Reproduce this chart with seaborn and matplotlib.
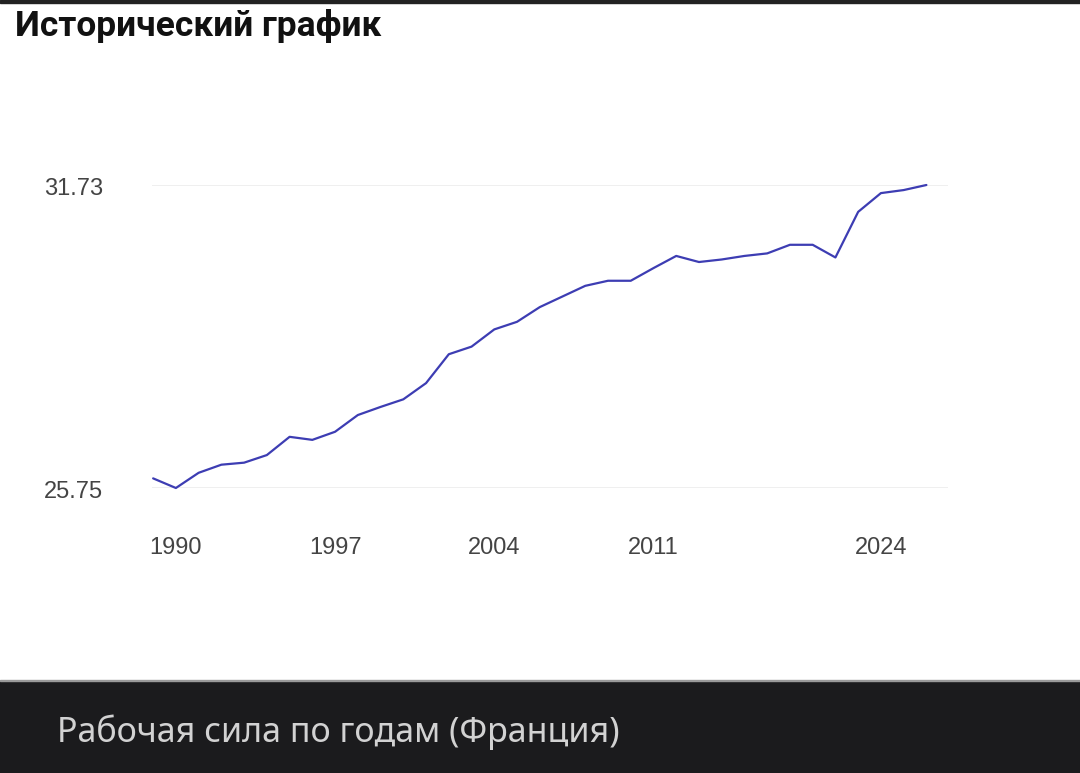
import pandas as pd
import matplotlib.pyplot as plt
import matplotlib.transforms as mtransforms
import seaborn as sns
from matplotlib.patches import Rectangle

# === data ===
point_idx = list(range(35))
labour_force = [
    25.94, 25.75, 26.05, 26.21, 26.25, 26.40, 26.76, 26.70, 26.86, 27.19,
    27.35, 27.50, 27.82, 28.39, 28.54, 28.88, 29.03, 29.32, 29.53, 29.74,
    29.84, 29.84, 30.09, 30.33, 30.21, 30.26, 30.33, 30.38, 30.55, 30.55,
    30.30, 31.20, 31.57, 31.63, 31.73,
]
tick_idx = [1, 8, 15, 22, 32]
tick_labels = ["1990", "1997", "2004", "2011", "2024"]
y_ticks = [25.75, 31.73]

df = pd.DataFrame({"idx": point_idx, "value": labour_force})

# === style ===
sns.set_style("white")
plt.rcParams["font.family"] = ["Liberation Sans", "DejaVu Sans"]

fig = plt.figure(figsize=(10.8, 7.73), dpi=100)
ax = fig.add_axes([152 / 1080, 285 / 773, 796 / 1080, 303 / 773])

sns.lineplot(data=df, x="idx", y="value", ax=ax, color="#3d3db3",
             linewidth=1.6, clip_on=False)

ax.set_xlim(-0.05, 34.95)
ax.set_ylim(y_ticks[0], y_ticks[1])
ax.set_yticks(y_ticks)
ax.set_yticklabels([f"{v:.2f}" for v in y_ticks])
ax.set_xticks(tick_idx)
ax.set_xticklabels(tick_labels)
ax.tick_params(axis="y", length=0, pad=35, labelsize=17, labelcolor="#444444")
ax.tick_params(axis="x", length=0, pad=35, labelsize=17, labelcolor="#444444")
shift = mtransforms.ScaledTranslation(0, -4 / 100, fig.dpi_scale_trans)
for t in ax.get_yticklabels():
    t.set_verticalalignment("center")
    t.set_transform(t.get_transform() + shift)
ax.set_xlabel("")
ax.set_ylabel("")
for s in ax.spines.values():
    s.set_visible(False)
for v in y_ticks:
    ax.axhline(v, color="#ececec", linewidth=1.2, zorder=0)

# === page chrome ===
fig.patches.append(Rectangle((0, 1 - 3 / 773), 1, 3 / 773,
                             transform=fig.transFigure, color="#222222"))
fig.text(15 / 1080, 1 - 26 / 773, "Исторический график",
         fontsize=25.5, fontweight="bold", family=["Roboto", "DejaVu Sans"],
         color="#111111", va="center", ha="left")

fig.patches.append(Rectangle((0, 0), 1, 92 / 773,
                             transform=fig.transFigure, color="#1b1b1d"))
fig.patches.append(Rectangle((0, 92 / 773), 1, 1.5 / 773,
                             transform=fig.transFigure, color="#9a9a9a"))
fig.text(57 / 1080, 41 / 773, "Рабочая сила по годам (Франция)",
         fontsize=24.5, family=["Noto Sans", "DejaVu Sans"],
         color="#d2d2d2", va="center", ha="left")

fig.savefig("out.png", dpi=100)
